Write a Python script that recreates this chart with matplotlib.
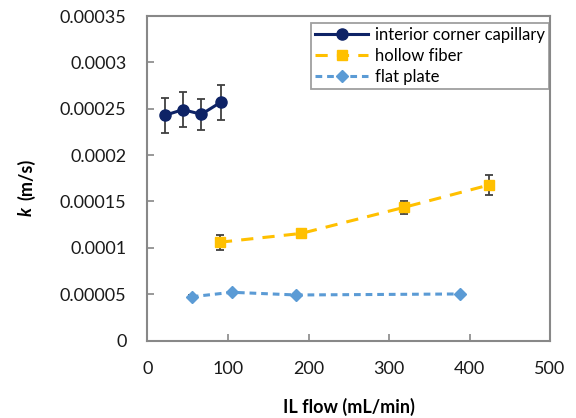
import numpy as np
import matplotlib
matplotlib.use("Agg")
import matplotlib.pyplot as plt

plt.rcParams['font.family'] = ['Lato', 'DejaVu Sans']

# interior corner capillary
cap_x = [22, 44, 67, 91]
cap_k = [0.000243, 0.000249, 0.000244, 0.000257]
cap_err = [0.000019, 0.000019, 0.000017, 0.000019]

# hollow fiber
hf_x = [90, 191, 319, 424]
hf_k = [0.000106, 0.0001155, 0.0001437, 0.0001677]
hf_err = [0.0000083, 0.0000045, 0.0000072, 0.0000104]

# flat plate
fp_x = [55, 105, 185, 388]
fp_k = [0.0000472, 0.000052, 0.0000491, 0.0000502]
fp_err = [0.0000015, 0.0000015, 0.0000015, 0.0000015]

yticks = [0, 0.00005, 0.0001, 0.00015, 0.0002, 0.00025, 0.0003, 0.00035]
ytick_labels = ['0', '0.00005', '0.0001', '0.00015', '0.0002', '0.00025', '0.0003', '0.00035']
xticks = [0, 100, 200, 300, 400, 500]

NAVY = '#0E2366'
ORANGE = '#FFC000'
BLUE = '#5B9BD5'
GRID = '#888888'
ERR = '#404040'

fig = plt.figure(figsize=(5.76, 4.18), dpi=100)
ax = fig.add_axes([0.256, 0.1854, 0.699, 0.7763])

err_kw = dict(ecolor=ERR, elinewidth=1.3, capsize=3, capthick=1.3)

c1 = ax.errorbar(cap_x, cap_k, yerr=cap_err, color=NAVY, lw=2.2, marker='o', ms=8, **err_kw)
c2 = ax.errorbar(hf_x, hf_k, yerr=hf_err, color=ORANGE, lw=2.2, ls=(0, (4, 3)), marker='s',
                 ms=7.5, **err_kw)
c3 = ax.errorbar(fp_x, fp_k, yerr=fp_err, color=BLUE, lw=2.2, ls=(0, (2.2, 1.6)), marker='D',
                 ms=6, **err_kw)

ax.set_xlim(0, 500)
ax.set_ylim(0, 0.00035)
ax.set_xticks(xticks)
ax.set_yticks(yticks)
ax.set_yticklabels(ytick_labels)
ax.tick_params(direction='in', length=5, width=1.2, color=GRID, labelsize=13, pad=15,
               labelcolor='#1a1a1a')
for s in ax.spines.values():
    s.set_color(GRID)
    s.set_linewidth(1.5)

ax.set_xlabel('IL flow (mL/min)', fontsize=13, fontweight='bold', labelpad=15)

# y label: italic bold k followed by bold (m/s)
fig.text(0.045, 0.484, 'k', rotation=90, fontsize=13, fontweight='bold', style='italic',
         ha='center', va='bottom')
fig.text(0.045, 0.522, '(m/s)', rotation=90, fontsize=13, fontweight='bold',
         ha='center', va='bottom')

leg = ax.legend([c1.lines[0], c2.lines[0], c3.lines[0]],
                ['interior corner capillary', 'hollow fiber', 'flat plate'],
                loc='upper right', bbox_to_anchor=(0.998, 0.978), borderaxespad=0,
                fontsize=12, frameon=True, fancybox=False, edgecolor=GRID,
                handlelength=3.2, handletextpad=0.4, labelspacing=0.3, borderpad=0.25)
leg.get_frame().set_linewidth(1.3)

fig.savefig('out.png', dpi=100)
